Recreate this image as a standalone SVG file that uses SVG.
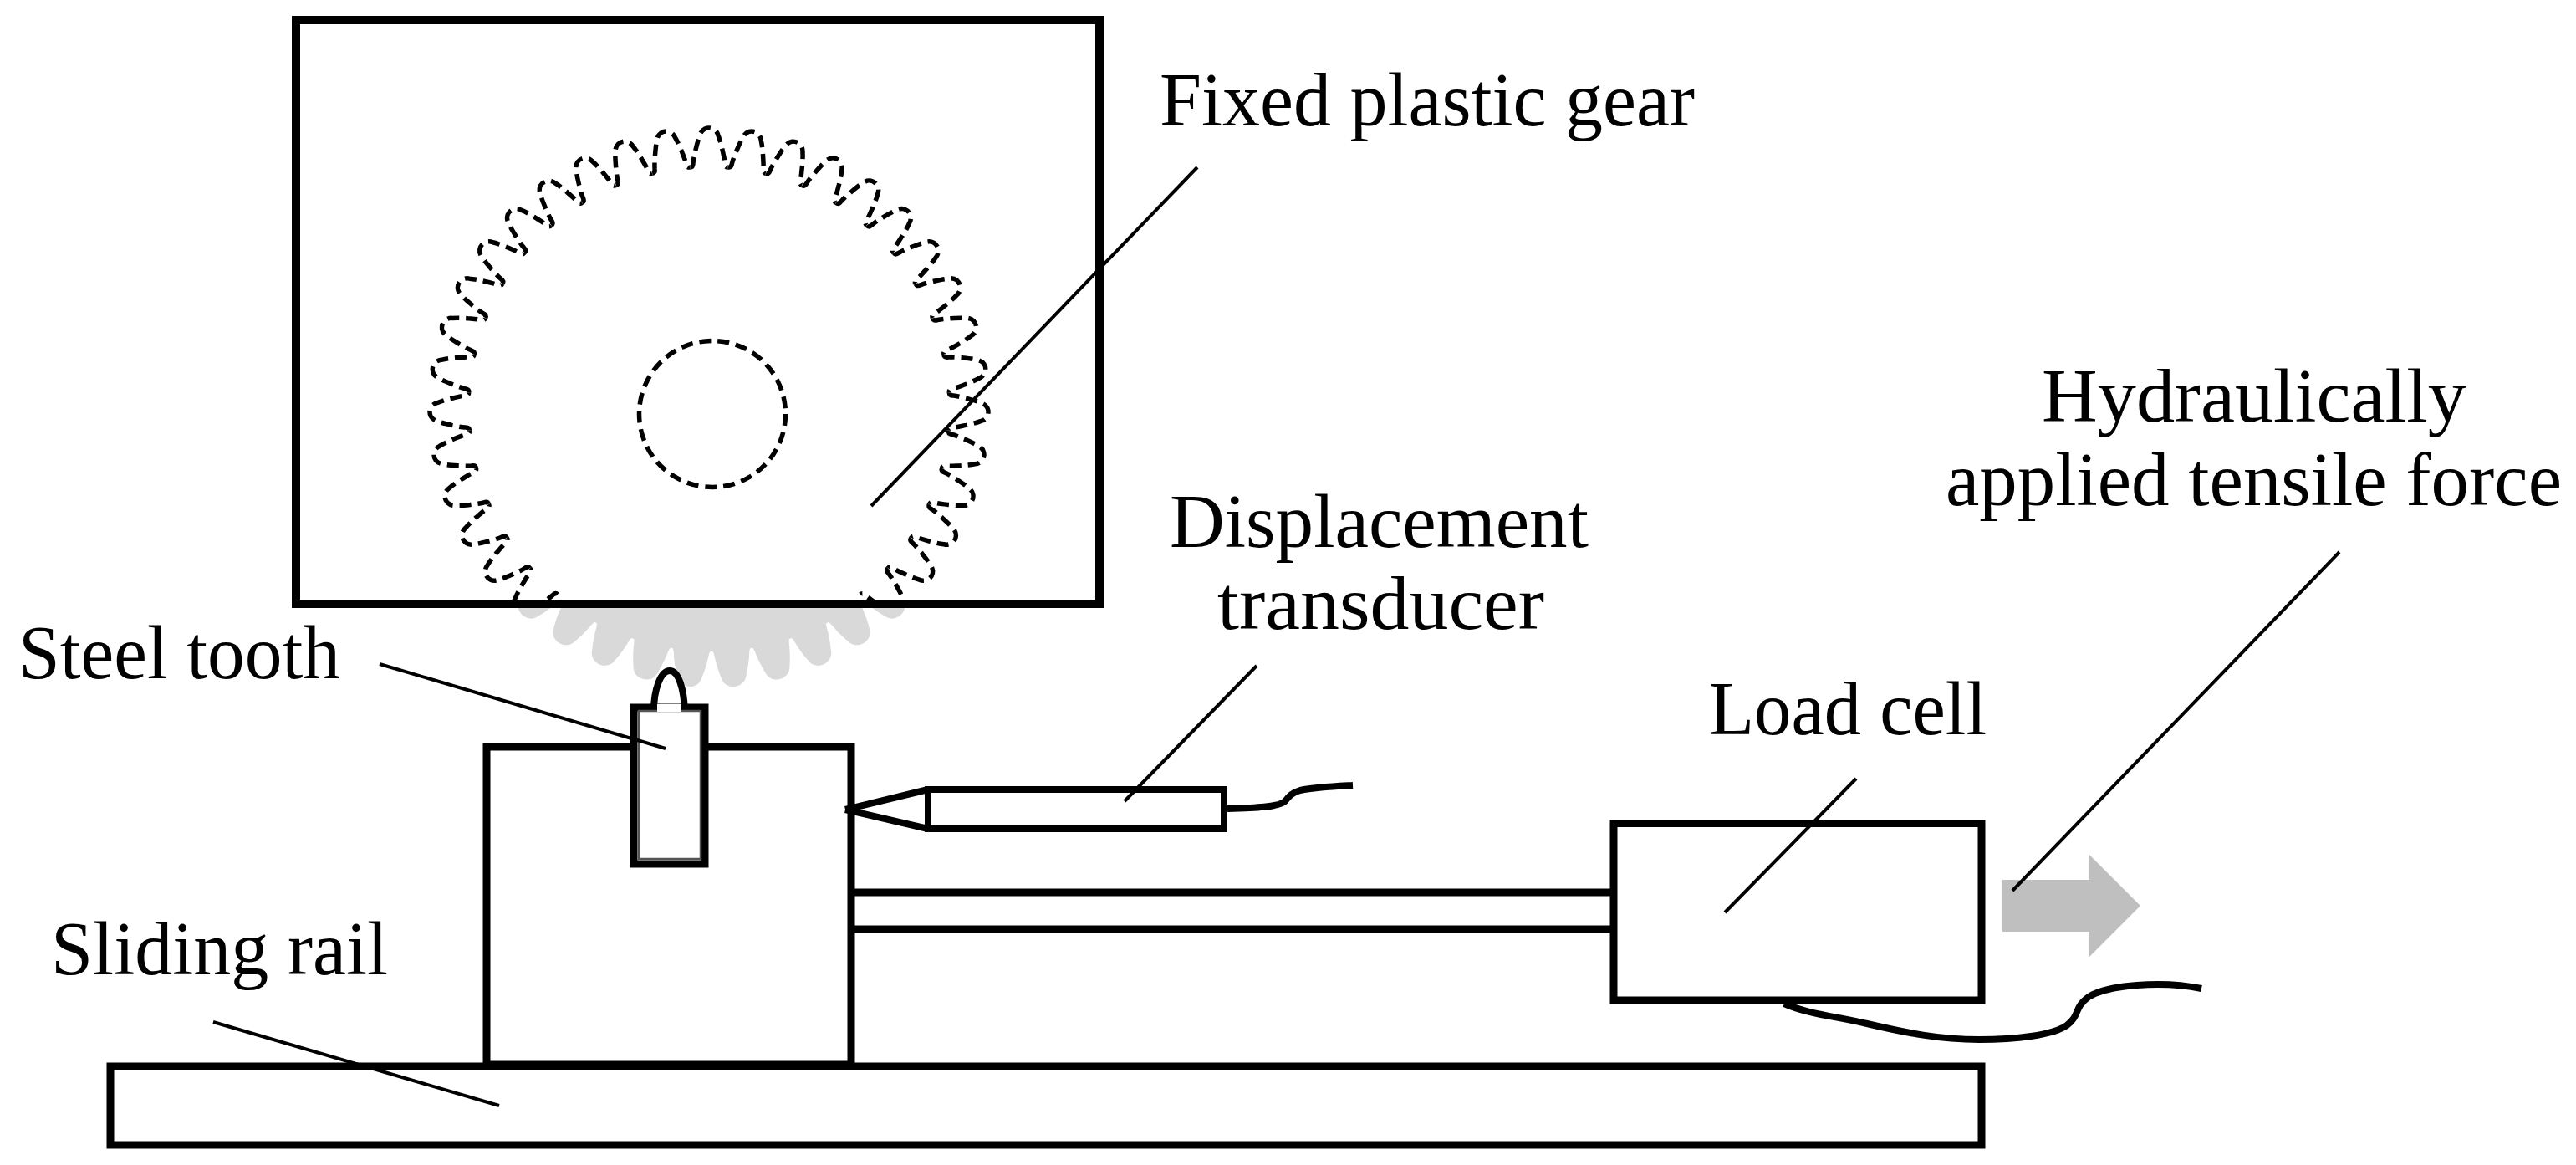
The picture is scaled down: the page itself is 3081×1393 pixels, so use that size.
<svg xmlns="http://www.w3.org/2000/svg" xmlns:xlink="http://www.w3.org/1999/xlink" width="3081" height="1393" viewBox="0 0 3081 1393">
<style>
.box{fill:#fff;stroke:#000;stroke-width:9;stroke-linejoin:miter}
.boxn{fill:none;stroke:#000;stroke-width:9}
.lead{fill:none;stroke:#000;stroke-width:4}
.cable{fill:none;stroke:#000;stroke-width:8}
.dash{fill:none;stroke:#000;stroke-width:5.5;stroke-dasharray:14 8}
.gray{fill:#d9d9d9}
text{font-family:"Liberation Serif","Times New Roman",serif;font-size:90px;fill:#000}
</style>
<defs>
<path id="tooth" d="M-22.7,-287 C-20,-287 -19,-289 -19,-292 C-18.5,-298 -17,-303 -16,-308 C-14,-316 -13,-320 -11,-325 C-8,-337 8,-337 11,-325 C13,-320 14,-316 16,-308 C17,-303 18.5,-298 19,-292 C19,-289 20,-287 22.7,-287"/>
<path id="gtooth" d="M-24,-280 L-24,-293 C-22,-295 -21.5,-297 -21,-300 C-20,-308 -18,-318 -15,-327 C-12,-343 12,-343 15,-327 C18,-318 20,-308 21,-300 C21.5,-297 22,-295 24,-293 L24,-280 Z"/>
<clipPath id="above"><rect x="300" y="60" width="1000" height="658"/></clipPath>
<clipPath id="below"><rect x="300" y="724" width="1000" height="200"/></clipPath>
</defs>
<rect width="3081" height="1393" fill="#fff"/>

<g id="rail"><rect class="box" x="132" y="1275" width="2238" height="94"/></g>

<g id="gray-gear" clip-path="url(#below)">
<g class="gray" transform="translate(851 483)">
<circle r="296"/>
<use xlink:href="#gtooth" transform="rotate(175.35)"/><use xlink:href="#gtooth" transform="rotate(184.65)"/>
<use xlink:href="#gtooth" transform="rotate(166.05)"/><use xlink:href="#gtooth" transform="rotate(193.95)"/>
<use xlink:href="#gtooth" transform="rotate(156.75)"/><use xlink:href="#gtooth" transform="rotate(203.25)"/>
<use xlink:href="#gtooth" transform="rotate(147.45)"/><use xlink:href="#gtooth" transform="rotate(212.55)"/>
<use xlink:href="#gtooth" transform="rotate(138.15)"/><use xlink:href="#gtooth" transform="rotate(221.85)"/>
</g>
</g>

<g id="fixed-gear">
<rect class="boxn" x="354" y="24" width="961" height="698" style="stroke-width:10"/>
<g clip-path="url(#above)">
<g class="dash" transform="translate(848 487)">
<use xlink:href="#tooth"/>
<use xlink:href="#tooth" transform="rotate(9.1)"/><use xlink:href="#tooth" transform="rotate(-9.1)"/>
<use xlink:href="#tooth" transform="rotate(18.2)"/><use xlink:href="#tooth" transform="rotate(-18.2)"/>
<use xlink:href="#tooth" transform="rotate(27.3)"/><use xlink:href="#tooth" transform="rotate(-27.3)"/>
<use xlink:href="#tooth" transform="rotate(36.4)"/><use xlink:href="#tooth" transform="rotate(-36.4)"/>
<use xlink:href="#tooth" transform="rotate(45.5)"/><use xlink:href="#tooth" transform="rotate(-45.5)"/>
<use xlink:href="#tooth" transform="rotate(54.6)"/><use xlink:href="#tooth" transform="rotate(-54.6)"/>
<use xlink:href="#tooth" transform="rotate(63.7)"/><use xlink:href="#tooth" transform="rotate(-63.7)"/>
<use xlink:href="#tooth" transform="rotate(72.8)"/><use xlink:href="#tooth" transform="rotate(-72.8)"/>
<use xlink:href="#tooth" transform="rotate(81.9)"/><use xlink:href="#tooth" transform="rotate(-81.9)"/>
<use xlink:href="#tooth" transform="rotate(91)"/><use xlink:href="#tooth" transform="rotate(-91)"/>
<use xlink:href="#tooth" transform="rotate(100.1)"/><use xlink:href="#tooth" transform="rotate(-100.1)"/>
<use xlink:href="#tooth" transform="rotate(109.2)"/><use xlink:href="#tooth" transform="rotate(-109.2)"/>
<use xlink:href="#tooth" transform="rotate(118.3)"/><use xlink:href="#tooth" transform="rotate(-118.3)"/>
<use xlink:href="#tooth" transform="rotate(127.4)"/><use xlink:href="#tooth" transform="rotate(-127.4)"/>
<use xlink:href="#tooth" transform="rotate(136.5)"/><use xlink:href="#tooth" transform="rotate(-136.5)"/>
</g>
</g>
<circle class="dash" cx="852" cy="495" r="87.5"/>
</g>

<g id="slider-block"><rect class="box" x="582" y="893" width="436" height="380"/></g>

<g id="steel-tooth">
<path d="M782,850 C782,825 790,802 801,802 C812,802 818,825 819,850 Z" fill="#fff" stroke="none"/>
<path class="boxn" d="M782,850 C782,825 790,802 801,802 C812,802 818,825 819,850" style="stroke-width:8"/>
<rect class="box" x="758" y="846" width="85" height="187"/>
<rect x="764" y="850" width="74" height="177" fill="none" stroke="#555" stroke-width="2.5"/>
<rect x="786" y="842" width="29" height="9" fill="#fff"/>
</g>

<g id="transducer">
<path class="boxn" d="M1011,968 L1110,944 M1011,968 L1110,991" style="stroke-width:8"/>
<rect class="box" x="1110" y="944" width="354" height="47" style="stroke-width:8"/>
<path class="cable" d="M1468,967 C1500,966 1530,965 1537,958 C1542,952 1545,948 1555,945 C1575,941 1600,940 1618,939"/>
</g>

<g id="rod"><path class="boxn" d="M1019,1067 H1930 M1019,1111 H1930"/></g>

<g id="load-cell">
<rect class="box" x="1930" y="984.5" width="440" height="211.5"/>
<path class="cable" d="M2134,1200 C2160,1212 2200,1216 2233,1224 C2280,1235 2320,1243 2367,1243 C2410,1243 2455,1238 2472,1226 C2488,1214 2480,1205 2498,1192 C2520,1178 2585,1172 2633,1182"/>
</g>

<g id="force-arrow"><path d="M2395,1052 H2499 V1022 L2560,1083 L2499,1144 V1114 H2395 Z" fill="#bfbfbf"/></g>

<g id="connectors">
<path class="lead" d="M1432,200 L1042,605"/>
<path class="lead" d="M2798,660 L2407,1065"/>
<path class="lead" d="M1503,796 L1345,958"/>
<path class="lead" d="M2220,931 L2063,1091"/>
<path class="lead" d="M454,794 L796,895"/>
<path class="lead" d="M255,1222 L597,1322"/>
</g>

<g id="labels">
<text x="1387" y="150" textLength="640" lengthAdjust="spacingAndGlyphs">Fixed plastic gear</text>
<text x="2442" y="504" textLength="508" lengthAdjust="spacingAndGlyphs">Hydraulically</text>
<text x="2327" y="604" textLength="737" lengthAdjust="spacingAndGlyphs">applied tensile force</text>
<text x="1399" y="654" textLength="501" lengthAdjust="spacingAndGlyphs">Displacement</text>
<text x="1456" y="752" textLength="391" lengthAdjust="spacingAndGlyphs">transducer</text>
<text x="2044" y="878" textLength="332" lengthAdjust="spacingAndGlyphs">Load cell</text>
<text x="22" y="811" textLength="385" lengthAdjust="spacingAndGlyphs">Steel tooth</text>
<text x="61" y="1165" textLength="403" lengthAdjust="spacingAndGlyphs">Sliding rail</text>
</g>
</svg>
